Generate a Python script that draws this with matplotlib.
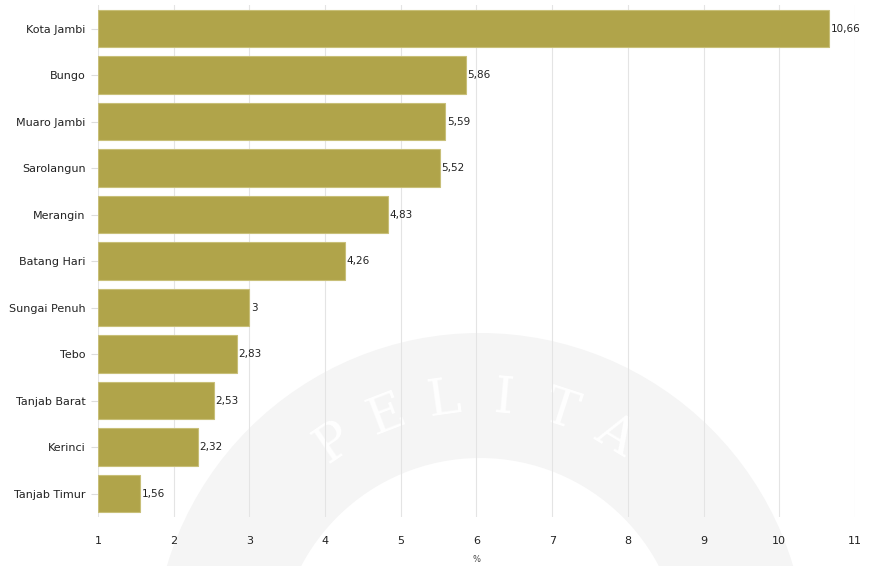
import matplotlib.pyplot as plt
from matplotlib.patches import Wedge
import numpy as np

wilayah = ['Kota Jambi', 'Bungo', 'Muaro Jambi', 'Sarolangun', 'Merangin',
           'Batang Hari', 'Sungai Penuh', 'Tebo', 'Tanjab Barat', 'Kerinci',
           'Tanjab Timur']
nilai = [10.66, 5.86, 5.59, 5.52, 4.83, 4.26, 3, 2.83, 2.53, 2.32, 1.56]
label_nilai = ['10,66', '5,86', '5,59', '5,52', '4,83', '4,26', '3',
               '2,83', '2,53', '2,32', '1,56']
x_ticks = list(range(1, 12))

fig = plt.figure(figsize=(8.95, 5.66), dpi=100)

# faint watermark arc in the background
wm = fig.add_axes([0, 0, 1, 1], zorder=0)
wm.set_xlim(0, 895)
wm.set_ylim(566, 0)
wm.axis('off')
cx, cy, r = 480, 660, 327
wm.add_patch(Wedge((cx, cy), r, 180, 360, width=125,
                   facecolor='#f5f5f5', edgecolor='none'))
angles = np.radians([-34, -21, -8, 5, 18, 31])
for ch, a in zip('PELITA', angles):
    rr = 262
    wm.text(cx + rr * np.sin(a), cy - rr * np.cos(a), ch, ha='center',
            va='center', fontsize=36, family='DejaVu Serif', color='white',
            rotation=-np.degrees(a))

ax = fig.add_axes([0.1095, 0.087, 0.8458, 0.9037], zorder=1)
ax.patch.set_alpha(0)

y = np.arange(len(wilayah))
base = 1
ax.barh(y, np.array(nilai) - base, left=base, height=0.8,
        color='#b0a44a', edgecolor='#c8bf78', linewidth=0.8, zorder=2)

for yi, v, lab in zip(y, nilai, label_nilai):
    ax.text(v + 0.02, yi, lab, va='center', ha='left', fontsize=7.5,
            color='#222222', zorder=3)

ax.set_ylim(len(wilayah) - 0.5, -0.5)
ax.set_xlim(1, 11)
ax.set_yticks(y)
ax.set_yticklabels(wilayah, fontsize=8, color='#222222')
ax.set_xticks(x_ticks)
ax.set_xticklabels([str(t) for t in x_ticks], fontsize=8, color='#222222')
ax.xaxis.grid(True, color='#e4e4e4', linewidth=0.8, zorder=0)
ax.set_axisbelow(True)
for s in ax.spines.values():
    s.set_visible(False)
ax.tick_params(axis='y', length=5, color='#dddddd', pad=4)
ax.tick_params(axis='x', length=0, pad=14)
ax.set_xlabel('%', fontsize=6, color='#444444', labelpad=6)

plt.savefig('out.png', dpi=100)
